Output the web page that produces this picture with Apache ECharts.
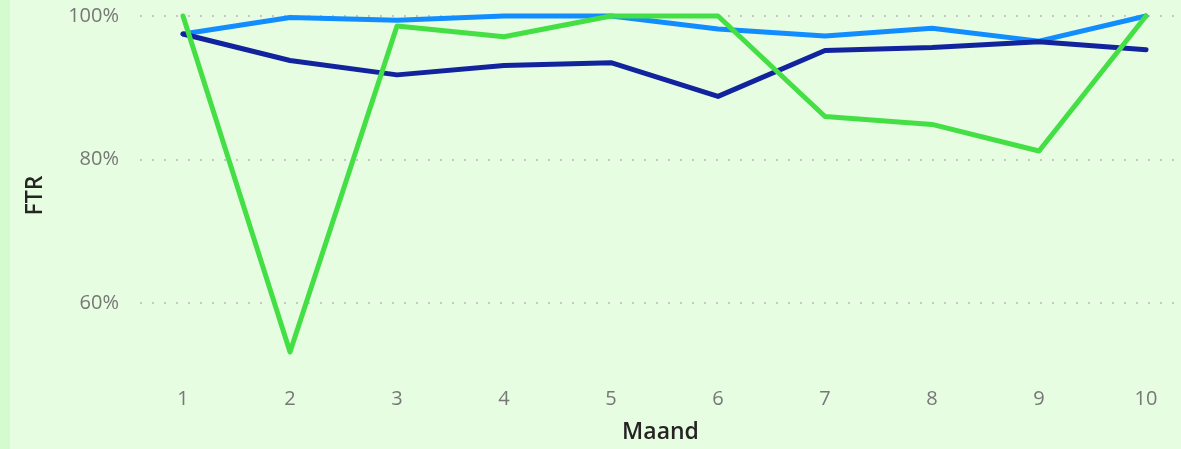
<!DOCTYPE html>
<html>
<head>
<meta charset="utf-8">
<script src="https://cdn.jsdelivr.net/npm/echarts@6/dist/echarts.min.js"></script>
<style>
  html, body { margin: 0; padding: 0; background: #e6fde2; }
  #chart { width: 1181px; height: 449px; }
</style>
</head>
<body>
<div id="chart"></div>
<script>
// maanden en FTR-percentages per reeks
var months = [1, 2, 3, 4, 5, 6, 7, 8, 9, 10];
var ftrBlue = [97.5, 99.8, 99.4, 100, 100, 98.2, 97.2, 98.3, 96.5, 100];
var ftrNavy = [97.5, 93.8, 91.8, 93.1, 93.5, 88.8, 95.2, 95.6, 96.4, 95.3];
var ftrGreen = [100, 53.2, 98.6, 97.1, 100, 100, 86.0, 84.9, 81.2, 100];
var yTicks = [60, 80, 100];

function pairs(vals) {
    return months.map(function (m, i) { return [m, vals[i]]; });
}

var myChart = echarts.init(document.getElementById('chart'));

var lineStyle = function (color) {
    return {
        type: 'line',
        symbol: 'none',
        lineStyle: { width: 5, color: color, cap: 'round', join: 'round' },
        itemStyle: { color: color },
        clip: false
    };
};

var option = {
    backgroundColor: '#e6fde2',
    animation: false,
    textStyle: { fontFamily: 'Open Sans' },
    graphic: [{
        type: 'rect',
        left: 0, top: 0,
        shape: { width: 10, height: 449 },
        style: { fill: '#d4fbce' }
    }],
    grid: { left: 140, right: 0, top: 16, bottom: 72 },
    xAxis: {
        type: 'value',
        min: 0.598,
        max: 10.327,
        name: 'Maand',
        nameLocation: 'middle',
        nameGap: 46,
        nameTextStyle: { color: '#252423', fontSize: 23, fontWeight: 600 },
        axisLine: { show: false },
        axisTick: { show: false },
        splitLine: { show: false },
        axisLabel: {
            customValues: months,
            color: '#777777',
            fontSize: 20,
            margin: 14
        }
    },
    yAxis: {
        type: 'value',
        min: 50,
        max: 100,
        name: 'FTR',
        nameLocation: 'middle',
        nameGap: 93,
        nameTextStyle: { color: '#252423', fontSize: 23, fontWeight: 600 },
        axisLine: { show: false },
        axisTick: { show: false, customValues: yTicks },
        axisLabel: {
            customValues: yTicks,
            color: '#777777',
            fontSize: 20,
            margin: 21,
            formatter: '{value}%'
        },
        splitLine: {
            show: true,
            lineStyle: { color: '#c8c8c8', type: [2, 10], width: 2 }
        }
    },
    series: [
        Object.assign(lineStyle('#118dff'), { data: pairs(ftrBlue) }),
        Object.assign(lineStyle('#12239e'), { data: pairs(ftrNavy) }),
        Object.assign(lineStyle('#44df44'), { data: pairs(ftrGreen) })
    ]
};

myChart.setOption(option);
</script>
</body>
</html>
